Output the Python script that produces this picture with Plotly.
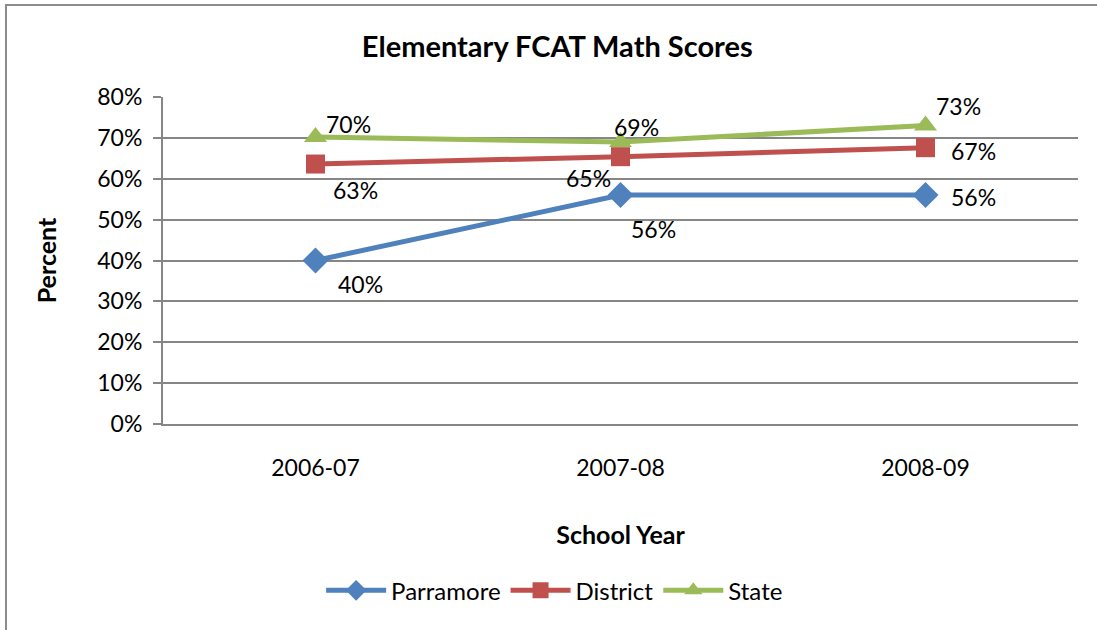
import plotly.graph_objects as go

years = ["2006-07", "2007-08", "2008-09"]
parramore = [40, 56, 56]
district = [63.6, 65.4, 67.6]
state = [70.2, 69.0, 73.0]
parramore_labels = ["40%", "56%", "56%"]
district_labels = ["63%", "65%", "67%"]
state_labels = ["70%", "69%", "73%"]
y_ticks = [0, 10, 20, 30, 40, 50, 60, 70, 80]
y_tick_labels = ["0%", "10%", "20%", "30%", "40%", "50%", "60%", "70%", "80%"]

FONT = "Lato, Open Sans, sans-serif"
series = [
    ("Parramore", parramore, parramore_labels, "#4F81BD", "diamond", 20),
    ("District", district, district_labels, "#C0504D", "square", 19),
    ("State", state, state_labels, "#9BBB59", "triangle-up", 20),
]

fig = go.Figure()
for name, vals, labs, col, sym, sz in series:
    fig.add_trace(go.Scatter(
        x=years, y=vals, name=name, mode="lines+markers",
        line=dict(color=col, width=5),
        marker=dict(symbol=sym, size=sz, color=col),
    ))

# label offsets (pixels) per series/point
offsets = {
    "Parramore": [(45, -23), (33, -34), (48, -2)],
    "District": [(40, -26), (-32, -21), (48, -3)],
    "State": [(33, 13), (16, 15), (33, 20)],
}
annotations = []
for name, vals, labs, col, sym, sz in series:
    for i, (yr, v, t) in enumerate(zip(years, vals, labs)):
        dx, dy = offsets[name][i]
        annotations.append(dict(
            x=yr, y=v, text=t, showarrow=False, xshift=dx, yshift=dy,
            font=dict(family=FONT, size=23, color="black"),
        ))

fig.update_layout(
    width=1097, height=630,
    paper_bgcolor="white", plot_bgcolor="white",
    margin=dict(l=163, r=19, t=97, b=206),
    title=dict(text="<b>Elementary FCAT Math Scores</b>", x=0.508, xanchor="center",
               y=0.925, yanchor="middle",
               font=dict(family=FONT, size=29, color="black")),
    font=dict(family=FONT, size=23, color="black"),
    showlegend=True,
    legend=dict(orientation="h", x=0.428, xanchor="center", y=-0.51, yanchor="middle",
                font=dict(family=FONT, size=24, color="black"),
                itemwidth=60, bgcolor="rgba(0,0,0,0)"),
    annotations=annotations,
    shapes=[dict(type="rect", xref="paper", yref="paper",
                 x0=-0.1716, x1=1.05, y0=-0.7, y1=1.281,
                 line=dict(color="#8c8c8c", width=2))],
)
fig.update_xaxes(
    type="category", range=[-0.5, 2.5], showgrid=False,
    showline=True, linecolor="#868686", linewidth=2,
    ticks="", ticklabelstandoff=22,
    tickfont=dict(family=FONT, size=23, color="black"),
    title=dict(text="<b>School Year</b>", standoff=47,
               font=dict(family=FONT, size=25, color="black")),
)
fig.update_yaxes(
    range=[0, 80], tickvals=y_ticks, ticktext=y_tick_labels,
    showgrid=True, gridcolor="#868686", gridwidth=1.5,
    showline=True, linecolor="#868686", linewidth=2,
    ticks="outside", ticklen=8, tickcolor="#868686", tickwidth=2,
    ticklabelstandoff=6,
    tickfont=dict(family=FONT, size=23, color="black"),
    title=dict(text="<b>Percent</b>", standoff=34,
               font=dict(family=FONT, size=25, color="black")),
    zeroline=False,
)
fig.write_html("out.html", config={"displayModeBar": False},
               post_script="document.body.style.margin='0';")
